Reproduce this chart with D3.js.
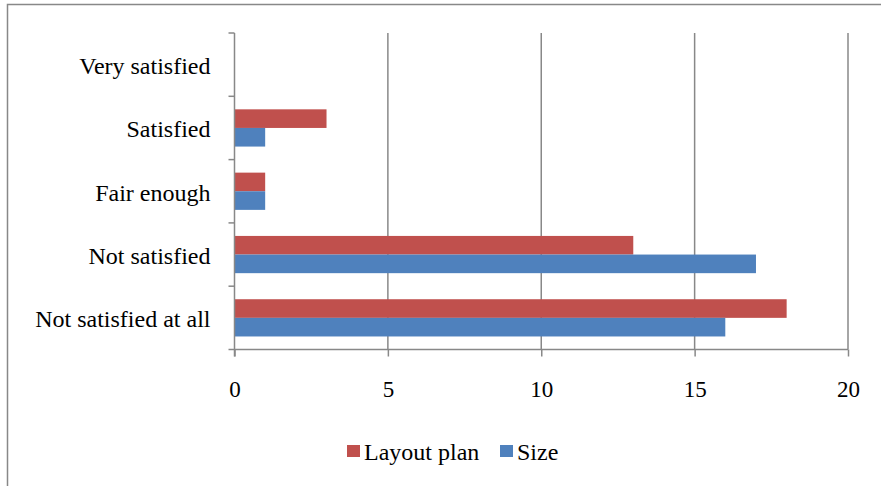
<!DOCTYPE html>
<html><head><meta charset="utf-8">
<script src="https://cdn.jsdelivr.net/npm/d3@7"></script>
<style>body{margin:0;background:#fff}svg{display:block}</style>
</head><body><svg id="c" width="881" height="486"></svg>
<script>
const categories = ["Very satisfied","Satisfied","Fair enough","Not satisfied","Not satisfied at all"];
const seriesNames = ["Layout plan","Size"];
const layoutPlan = [0,3,1,13,18];
const size = [0,1,1,17,16];
const xTicks = [0,5,10,15,20];
const colors = ["#C0504D","#4F81BD"];
const FONT = "'Liberation Serif', 'Times New Roman', serif";

const svg = d3.select("#c").attr("font-family",FONT);
svg.append("rect").attr("x",7.5).attr("y",4.5).attr("width",900).attr("height",520)
  .attr("fill","none").attr("stroke","#888").attr("stroke-width",1.5);

const L=234.5, R=848, T=33, B=349.5;
const x = d3.scaleLinear().domain([0,20]).range([L,R]);
const y = d3.scaleBand().domain(categories).range([T,B]);
const inner = d3.scaleBand().domain(seriesNames).range([0,y.bandwidth()]).paddingOuter(0.7);

svg.append("g").selectAll("line").data(xTicks.slice(1)).join("line")
  .attr("x1",d=>x(d)).attr("x2",d=>x(d)).attr("y1",T).attr("y2",B)
  .attr("stroke","#888").attr("stroke-width",1.5);

const data = [layoutPlan,size];
data.forEach((vals,si)=>{
  svg.append("g").selectAll("rect").data(categories).join("rect")
    .attr("x",x(0)).attr("y",(c)=>y(c)+inner(seriesNames[si]))
    .attr("width",(c,i)=>x(vals[i])-x(0)).attr("height",inner.bandwidth())
    .attr("fill",colors[si]);
});

const xa = svg.append("g").attr("transform",`translate(0,${B})`)
  .call(d3.axisBottom(x).tickValues(xTicks).tickSize(7).tickPadding(0));
xa.attr("font-family",FONT).attr("font-size",23);
xa.select(".domain").attr("stroke","#888").attr("stroke-width",1.5).attr("d",`M${L},0H${R}`);
xa.selectAll(".tick line").attr("stroke","#888").attr("stroke-width",1.5);
xa.selectAll("text").attr("fill","#000").attr("dy",null).attr("y",47.5);

const yEdges = categories.map(c=>y(c)).concat([B]);
svg.append("line").attr("x1",L).attr("x2",L).attr("y1",T).attr("y2",B+7)
  .attr("stroke","#888").attr("stroke-width",1.5);
svg.append("g").selectAll("line").data(yEdges).join("line")
  .attr("x1",L-6).attr("x2",L).attr("y1",d=>d).attr("y2",d=>d)
  .attr("stroke","#888").attr("stroke-width",1.5);
svg.append("g").selectAll("text").data(categories).join("text")
  .attr("x",210.5).attr("y",c=>y(c)+y.bandwidth()/2+9.5)
  .attr("text-anchor","end").attr("font-size",24).text(d=>d);

const leg = [{n:seriesNames[0],c:colors[0],x:347},{n:seriesNames[1],c:colors[1],x:500}];
const lg = svg.append("g");
leg.forEach(l=>{
  lg.append("rect").attr("x",l.x).attr("y",445).attr("width",13).attr("height",12).attr("fill",l.c);
  lg.append("text").attr("x",l.x+17).attr("y",460).attr("font-size",24).text(l.n);
});
</script></body></html>
